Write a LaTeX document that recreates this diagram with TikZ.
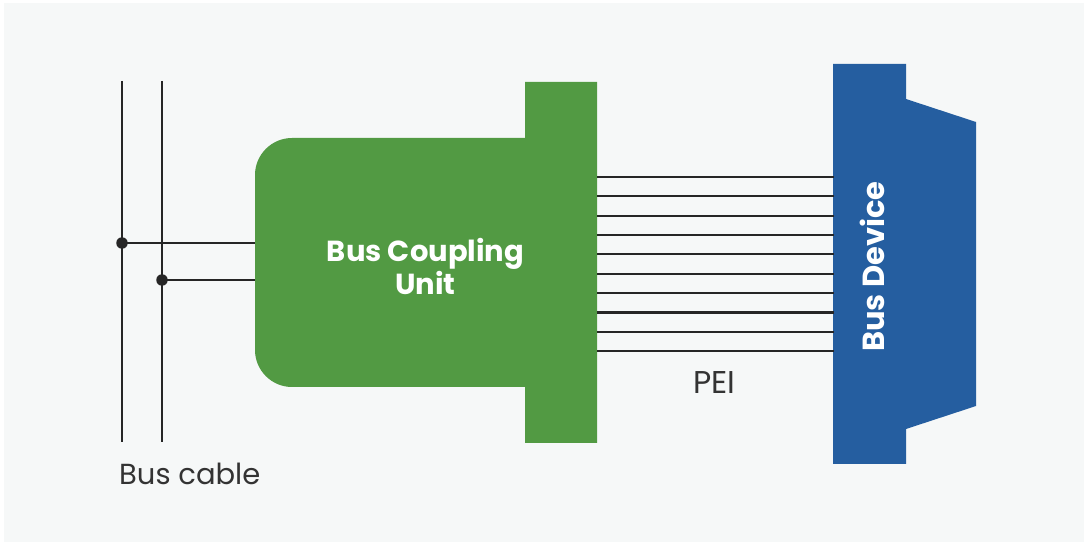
\documentclass[tikz,border=0pt]{standalone}
\usepackage{fontspec}
\setmainfont{Poppins}
\definecolor{bgc}{HTML}{F6F8F8}
\definecolor{bcugreen}{HTML}{529A43}
\definecolor{devblue}{HTML}{255EA0}
\definecolor{wirec}{HTML}{262626}
\definecolor{labelc}{HTML}{333333}
\tikzset{
  wire/.style={draw=wirec, line width=2.4pt},
  pein/.style={draw=wirec, line width=2.2pt},
  junction/.style={circle, fill=wirec, inner sep=0pt, minimum size=11.5pt},
  whitelabel/.style={text=white, font=\bfseries\fontsize{29}{33}\selectfont, inner sep=0pt},
  devlabel/.style={text=white, font=\bfseries\fontsize{30.5}{33}\selectfont, inner sep=0pt},
  plainlabel/.style={text=labelc, font=\fontsize{29}{32}\selectfont, inner sep=0pt},
  peilabel/.style={text=labelc, font=\fontsize{31.5}{32}\selectfont, inner sep=0pt}
}
\begin{document}
\begin{tikzpicture}[x=1pt,y=-1pt]
\useasboundingbox (0,0) rectangle (1088,545);
\fill[bgc] (4,3) rectangle (1084,542);
% bus cable
\coordinate (c1t) at (122,81);
\coordinate (c1b) at (122,442);
\coordinate (c2t) at (162,81);
\coordinate (c2b) at (162,442);
\draw[wire] (c1t) -- (c1b);
\draw[wire] (c2t) -- (c2b);
\node[junction] (j1) at (122,243) {};
\node[junction] (j2) at (162,280) {};
\coordinate (bcuw1) at (256,243);
\coordinate (bcuw2) at (256,280);
\draw[wire] (j1.center) -- (bcuw1);
\draw[wire] (j2.center) -- (bcuw2);
% bus coupling unit
\fill[bcugreen] (292,138) -- (525,138) -- (525,82) -- (597,82) -- (597,443) -- (525,443) -- (525,387) -- (292,387)
  .. controls (271.6,387) and (255,370.4) .. (255,350) -- (255,175)
  .. controls (255,154.6) and (271.6,138) .. (292,138) -- cycle;
\node[whitelabel, anchor=base] (bcu1) at (425.5,262) {Bus Coupling};
\node[whitelabel, anchor=base] (bcu2) at (425.5,295) {Unit};
% bus device
\fill[devblue] (833,64) -- (906,64) -- (906,99) -- (976,122) -- (976,406) -- (906,429) -- (906,464) -- (833,464) -- cycle;
\node[devlabel, rotate=90] (dev) at (872,266.5) {Bus Device};
% PEI lines
\foreach \i in {0,...,9} {
  \coordinate (pa\i) at (597,177+19.35*\i);
  \coordinate (pb\i) at (834,177+19.35*\i);
  \draw[pein] (pa\i) -- (pb\i);
}
\node[peilabel, anchor=base west] (pei) at (693,394) {PEI};
\node[plainlabel, anchor=base west] (cable) at (119,484) {Bus cable};
\end{tikzpicture}
\end{document}
